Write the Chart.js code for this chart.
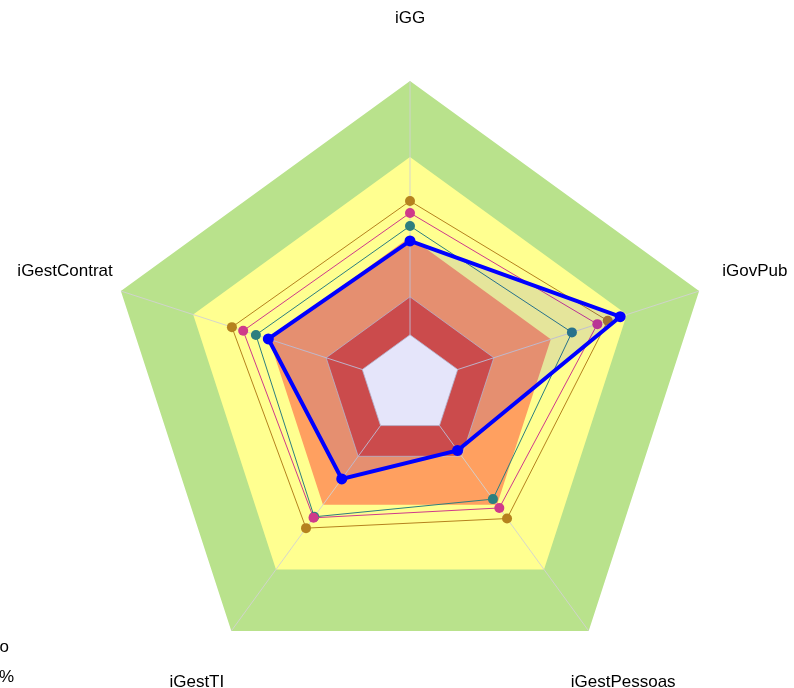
<!DOCTYPE html>
<html>
<head>
<meta charset="utf-8">
<script src="https://cdn.jsdelivr.net/npm/chart.js@4.4.1/dist/chart.umd.min.js"></script>
<style>
  html, body { margin: 0; padding: 0; background: #fff; overflow: hidden; }
  #wrap { width: 794px; height: 688px; overflow: hidden; }
</style>
</head>
<body>
<div id="wrap"><canvas id="radar" width="794" height="700"></canvas></div>
<script>
// axes
const categories = ['iGG', 'iGovPub', 'iGestPessoas', 'iGestTI', 'iGestContrat'];

// series values (0-100)
const orgao = [47.4, 72.7, 26.6, 38.2, 49.0];
const media1 = [52.3, 56.0, 46.4, 53.6, 53.3];
const media2 = [56.6, 64.8, 50.0, 54.0, 57.7];
const media3 = [60.5, 68.4, 54.3, 58.2, 61.6];

// background capability bands (upper limit of each band)
const bandLimits = [100, 75, 48.7, 29, 16.5];
const bandColors = ['#B9E28C', '#FFFF90', '#FFA060', '#E35438', '#FFFFFA'];

// partly hidden legend text at the left edge
const legendLines = ['Aprimorado', '70% a 100%'];

function constant(v) {
    return categories.map(() => v);
}

// angle lines drawn over the outer bands, under the centre band and the series
const angleLinesPlugin = {
    id: 'angleLinesOver',
    afterDatasetDraw(chart, args) {
        if (args.index !== 5) return;
        const scale = chart.scales.r;
        const ctx = chart.ctx;
        ctx.save();
        ctx.strokeStyle = 'rgba(210,210,210,0.9)';
        ctx.lineWidth = 1;
        categories.forEach((c, i) => {
            const p = scale.getPointPositionForValue(i, 100);
            ctx.beginPath();
            ctx.moveTo(scale.xCenter, scale.yCenter);
            ctx.lineTo(p.x, p.y);
            ctx.stroke();
        });
        ctx.restore();
    }
};

// centered axis labels
const labelsPlugin = {
    id: 'centeredLabels',
    afterDraw(chart) {
        const scale = chart.scales.r;
        const ctx = chart.ctx;
        ctx.save();
        ctx.font = '17px "Liberation Sans", Arial, sans-serif';
        ctx.fillStyle = '#000';
        ctx.textAlign = 'center';
        ctx.textBaseline = 'middle';
        categories.forEach((c, i) => {
            const px = scale.getPointPosition(i, scale.drawingArea * 1.193);
            const py = scale.getPointPosition(i, scale.drawingArea * 1.207);
            ctx.fillText(c, px.x, py.y);
        });
        ctx.textAlign = 'right';
        ctx.fillText(legendLines[0], 9, 647);
        ctx.fillText(legendLines[1], 14, 677);
        ctx.restore();
    }
};

const bandDatasets = bandLimits.map((v, i) => ({
    label: 'faixa ' + v,
    data: constant(v),
    fill: 'origin',
    backgroundColor: bandColors[i],
    borderColor: i >= 3 ? 'rgba(200,200,200,0.8)' : 'rgba(0,0,0,0)',
    borderWidth: 1,
    pointRadius: 0
})).reverse();

function series(label, data, color, width, radius, fill) {
    return {
        label: label,
        data: data,
        borderColor: color,
        backgroundColor: fill || color,
        fill: !!fill,
        borderWidth: width,
        pointRadius: radius,
        pointBackgroundColor: color,
        pointBorderColor: color,
        pointBorderWidth: 0
    };
}

new Chart(document.getElementById('radar'), {
    type: 'radar',
    data: {
        labels: categories,
        datasets: [
            series('Organização', orgao, '#0000FF', 4, 5.5, 'rgba(0,0,255,0.1)'),
            series('Média 2', media2, '#CF3A8A', 1, 5),
            series('Média 1', media1, '#2D7F7F', 1, 5),
            series('Média 3', media3, '#B5821E', 1, 5)
        ].concat(bandDatasets)
    },
    options: {
        responsive: false,
        animation: false,
        layout: { padding: { left: 106, right: 80, top: 81, bottom: 11 } },
        elements: { line: { tension: 0 } },
        plugins: {
            legend: { display: false },
            tooltip: { enabled: false }
        },
        scales: {
            r: {
                min: 0,
                max: 100,
                ticks: { display: false },
                grid: { display: false },
                angleLines: { display: false },
                pointLabels: { display: false }
            }
        }
    },
    plugins: [angleLinesPlugin, labelsPlugin]
});
</script>
</body>
</html>
